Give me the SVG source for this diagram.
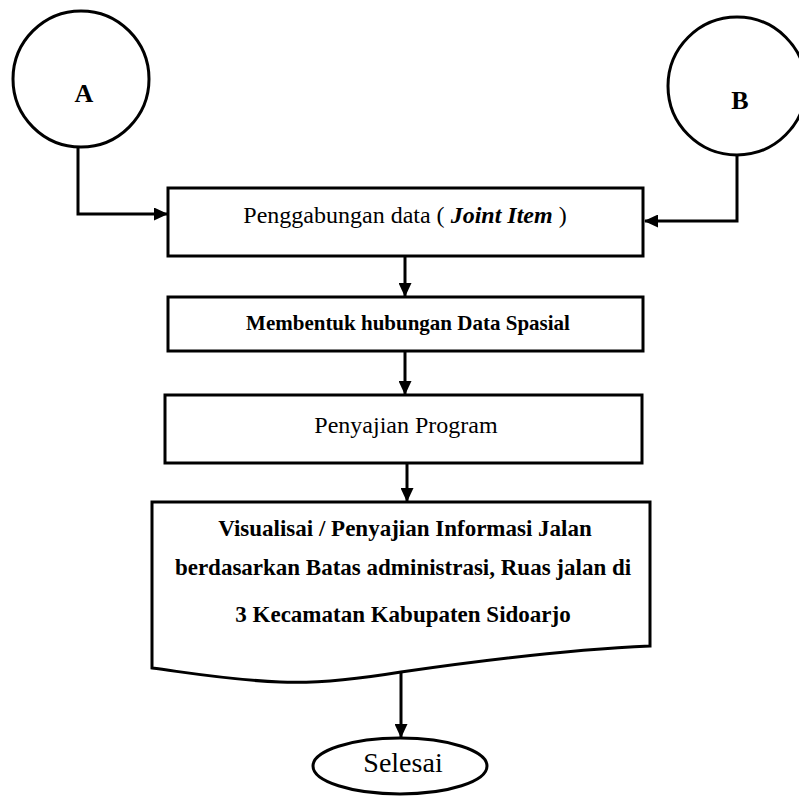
<svg xmlns="http://www.w3.org/2000/svg" width="799" height="796" viewBox="0 0 799 796">
  <style>
    .shape { fill: #fff; stroke: #000; stroke-width: 3; }
    .wire { fill: none; stroke: #000; stroke-width: 3; }
    text { font-family: "Liberation Serif", "Times New Roman", serif; fill: #000; text-anchor: middle; }
    .reg { font-size: 24px; }
    .bold { font-weight: bold; }
  </style>
  <defs>
    <marker id="arrow" viewBox="0 0 14 13" refX="13" refY="6.5" markerWidth="14" markerHeight="13" markerUnits="userSpaceOnUse" orient="auto">
      <path d="M0,0 L14,6.5 L0,13 Z" fill="#000"/>
    </marker>
  </defs>
  <rect width="799" height="796" fill="#fff"/>

  <!-- connectors -->
  <g id="connectors">
    <polyline class="wire" points="78,148 78,214 167,214" marker-end="url(#arrow)"/>
    <polyline class="wire" points="737,155 737,221 645,221" marker-end="url(#arrow)"/>
    <line class="wire" x1="405" y1="256" x2="405" y2="296" marker-end="url(#arrow)"/>
    <line class="wire" x1="405" y1="351" x2="405" y2="394" marker-end="url(#arrow)"/>
    <line class="wire" x1="407" y1="463" x2="407" y2="501" marker-end="url(#arrow)"/>
    <line class="wire" x1="401" y1="663" x2="401" y2="737" marker-end="url(#arrow)"/>
  </g>

  <!-- connector A -->
  <g id="node-a">
    <circle class="shape" cx="81" cy="79" r="68"/>
    <text class="bold" x="84" y="102" font-size="26">A</text>
  </g>

  <!-- connector B -->
  <g id="node-b">
    <circle class="shape" cx="737" cy="86" r="69"/>
    <text class="bold" x="740" y="109" font-size="26">B</text>
  </g>

  <!-- join step -->
  <g id="node-join">
    <rect class="shape" x="168" y="188" width="475" height="68"/>
    <text class="reg" x="405" y="223">Penggabungan data ( <tspan font-style="italic" font-weight="bold">Joint Item</tspan> )</text>
  </g>

  <!-- spatial relation step -->
  <g id="node-spatial">
    <rect class="shape" x="168" y="297" width="475" height="54"/>
    <text class="bold" x="408" y="330" font-size="21">Membentuk hubungan Data Spasial</text>
  </g>

  <!-- program presentation step -->
  <g id="node-program">
    <rect class="shape" x="165" y="395" width="477" height="68"/>
    <text class="reg" x="406" y="433">Penyajian Program</text>
  </g>

  <!-- output document -->
  <g id="node-output">
    <path class="shape" d="M152,502 L650,502 L650,646 C560,650 470,662 401,672 C340,682 300,683 280,682 C230,680 190,673 152,668 Z"/>
    <text class="bold" x="405" y="536" font-size="23">Visualisai / Penyajian Informasi Jalan</text>
    <text class="bold" x="403" y="575" font-size="23">berdasarkan Batas administrasi, Ruas jalan di</text>
    <text class="bold" x="403" y="622" font-size="23">3 Kecamatan Kabupaten Sidoarjo</text>
  </g>

  <!-- terminator -->
  <g id="node-end">
    <ellipse class="shape" cx="400" cy="766" rx="87" ry="28"/>
    <text x="403" y="772" font-size="28">Selesai</text>
  </g>
</svg>
